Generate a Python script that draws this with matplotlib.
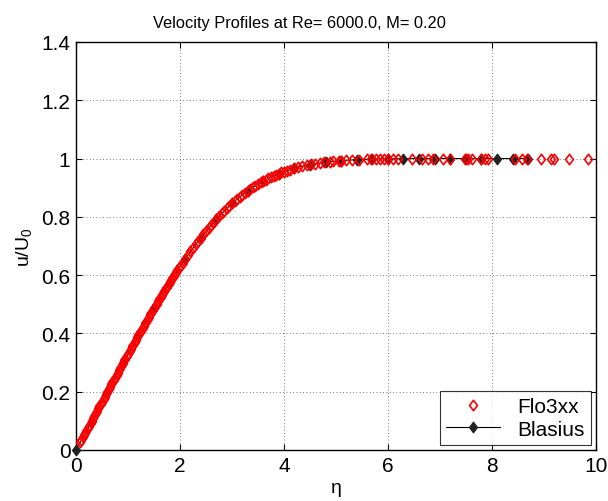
import matplotlib
matplotlib.use("Agg")
import matplotlib.pyplot as plt
from matplotlib.path import Path

plt.rcParams['font.family'] = ['Liberation Sans', 'DejaVu Sans']
plt.rcParams['mathtext.fontset'] = 'custom'
plt.rcParams['mathtext.rm'] = 'Liberation Sans'
plt.rcParams['mathtext.it'] = 'Liberation Sans:italic'

title = "Velocity Profiles at Re= 6000.0, M= 0.20"

# Flo3xx profile points (eta, u/U0)
flo_eta = [0.08, 0.10, 0.13, 0.15, 0.18, 0.20, 0.23, 0.25, 0.28, 0.30, 0.33, 0.35, 0.38, 0.40,
           0.43, 0.45, 0.48, 0.50, 0.53, 0.55, 0.58, 0.60, 0.63, 0.65, 0.68, 0.70, 0.73, 0.75,
           0.78, 0.80, 0.83, 0.85, 0.88, 0.90, 0.93, 0.95, 0.98, 1.00, 1.03, 1.05, 1.08, 1.10,
           1.13, 1.15, 1.18, 1.20, 1.23, 1.25, 1.28, 1.30, 1.33, 1.35, 1.38, 1.40, 1.43, 1.45,
           1.48, 1.50, 1.53, 1.55, 1.58, 1.60, 1.63, 1.65, 1.68, 1.70, 1.73, 1.75, 1.78, 1.80,
           1.83, 1.85, 1.88, 1.90, 1.93, 1.95, 1.98, 2.00, 2.05, 2.10, 2.15, 2.20, 2.25, 2.30,
           2.35, 2.40, 2.45, 2.50, 2.55, 2.60, 2.65, 2.70, 2.75, 2.80, 2.85, 2.90, 2.95, 3.00,
           3.05, 3.10, 3.15, 3.20, 3.25, 3.30, 3.35, 3.40, 3.45, 3.50, 3.55, 3.60, 3.65, 3.70,
           3.75, 3.80, 3.85, 3.90, 3.95, 4.00,
           4.05, 4.12, 4.20, 4.28, 4.35, 4.45, 4.52, 4.60, 4.70, 4.78, 4.88, 4.95,
           5.05, 5.10, 5.20, 5.30, 5.45, 5.60, 5.68, 5.78, 5.85, 5.92, 6.00, 6.10,
           6.19, 6.46, 6.65, 6.77, 6.87, 7.06, 7.19, 7.48, 7.54, 7.62, 7.80, 7.87,
           7.92, 8.44, 8.58, 8.67, 8.95, 9.13, 9.19, 9.48, 9.85]
flo_u = [0.0266, 0.0332, 0.0432, 0.0498, 0.0598, 0.0664, 0.0764, 0.0830, 0.0930, 0.0996, 0.1096, 0.1162, 0.1262, 0.1328,
         0.1427, 0.1494, 0.1593, 0.1659, 0.1758, 0.1824, 0.1923, 0.1989, 0.2088, 0.2154, 0.2253, 0.2319, 0.2417, 0.2483,
         0.2581, 0.2647, 0.2745, 0.2810, 0.2908, 0.2973, 0.3071, 0.3136, 0.3233, 0.3298, 0.3394, 0.3459, 0.3555, 0.3619,
         0.3715, 0.3779, 0.3874, 0.3938, 0.4033, 0.4096, 0.4190, 0.4252, 0.4346, 0.4408, 0.4501, 0.4563, 0.4654, 0.4715,
         0.4807, 0.4867, 0.4958, 0.5018, 0.5108, 0.5168, 0.5256, 0.5314, 0.5402, 0.5460, 0.5546, 0.5605, 0.5690, 0.5748,
         0.5832, 0.5887, 0.5970, 0.6026, 0.6108, 0.6163, 0.6244, 0.6298, 0.6430, 0.6560, 0.6688, 0.6813, 0.6936, 0.7056,
         0.7174, 0.7290, 0.7402, 0.7512, 0.7620, 0.7725, 0.7826, 0.7925, 0.8022, 0.8115, 0.8206, 0.8293, 0.8379, 0.8461,
         0.8540, 0.8616, 0.8690, 0.8761, 0.8829, 0.8894, 0.8957, 0.9018, 0.9075, 0.9130, 0.9183, 0.9233, 0.9281, 0.9326,
         0.9369, 0.9411, 0.9450, 0.9487, 0.9522, 0.9555,
         0.9570, 0.9617, 0.9670, 0.9708, 0.9738, 0.9778, 0.9800, 0.9827, 0.9855, 0.9873, 0.9894, 0.9906,
         0.9924, 0.9930, 0.9943, 0.9953, 0.9966, 0.9975, 0.9979, 0.9983, 0.9986, 0.9988, 0.9990, 0.9993,
         0.9995, 0.9997, 0.9998, 0.9999, 0.9999, 1.0000, 1.0000, 1.0000, 1.0000, 1.0000, 1.0000, 1.0000,
         1.0000, 1.0000, 1.0000, 1.0000, 1.0000, 1.0000, 1.0000, 1.0000, 1.0000]

# Blasius solution (eta, f')
bl_eta = [0.0, 0.3, 0.6, 0.9, 1.2, 1.5, 1.8, 2.1, 2.4, 2.7, 3.0, 3.3, 3.6, 3.9, 4.2,
          4.5, 4.8, 5.1, 5.4, 5.7, 6.0, 6.3, 6.6, 6.9, 7.2, 7.5, 7.8, 8.1, 8.4, 8.7]
bl_u = [0.0, 0.0996, 0.1989, 0.2973, 0.3938, 0.4867, 0.5748, 0.6560, 0.7290, 0.7925,
        0.8461, 0.8897, 0.9233, 0.9487, 0.9670, 0.9795, 0.9878, 0.9930, 0.9962, 0.9980,
        0.9990, 0.9995, 0.9998, 0.9999, 1.0, 1.0, 1.0, 1.0, 1.0, 1.0]

xticks = [0, 2, 4, 6, 8, 10]
yticks = [0, 0.2, 0.4, 0.6, 0.8, 1.0, 1.2, 1.4]
yticklabels = ['0', '0.2', '0.4', '0.6', '0.8', '1', '1.2', '1.4']

diamond = Path([(0, 1), (0.75, 0), (0, -1), (-0.75, 0), (0, 1)],
               [Path.MOVETO, Path.LINETO, Path.LINETO, Path.LINETO, Path.CLOSEPOLY])

fig = plt.figure(figsize=(6.08, 5.02), dpi=100)
ax = fig.add_axes([0.125, 0.1016, 0.855, 0.8128])

ax.plot(bl_eta, bl_u, color='#000000', linewidth=0.8, marker=diamond, markersize=7.5,
        markerfacecolor='#222222', markeredgecolor='#222222', label='Blasius',
        clip_on=False, zorder=3)
ax.plot(flo_eta, flo_u, linestyle='none', marker=diamond, markersize=7.5,
        markerfacecolor='none', markeredgecolor='#ff0000', markeredgewidth=1.2,
        label='Flo3xx', clip_on=False, zorder=4)

ax.set_xlim(0, 10)
ax.set_ylim(0, 1.4)
ax.set_xticks(xticks)
ax.set_yticks(yticks)
ax.set_yticklabels(yticklabels)
ax.tick_params(direction='in', top=True, right=True, length=4, width=0.8,
               labelsize=15, pad=4)
for s in ax.spines.values():
    s.set_linewidth(1.0)
ax.grid(True, linestyle=(0, (1, 3)), color='#555555', linewidth=0.6)
ax.set_axisbelow(True)

ax.set_title(title, fontsize=11.8, pad=11, x=0.43)
ax.set_xlabel('η', fontsize=14, labelpad=3)
ax.set_ylabel('u/U$_0$', fontsize=14, labelpad=5)

handles, labels = ax.get_legend_handles_labels()
leg = ax.legend(handles[::-1], labels[::-1], loc='lower right', fontsize=15,
                frameon=True, fancybox=False, edgecolor='black',
                borderaxespad=0.25, handlelength=2.6, handletextpad=0.8,
                borderpad=0.3, labelspacing=0.15)
leg.get_frame().set_linewidth(0.8)

fig.savefig('out.png', dpi=100)
